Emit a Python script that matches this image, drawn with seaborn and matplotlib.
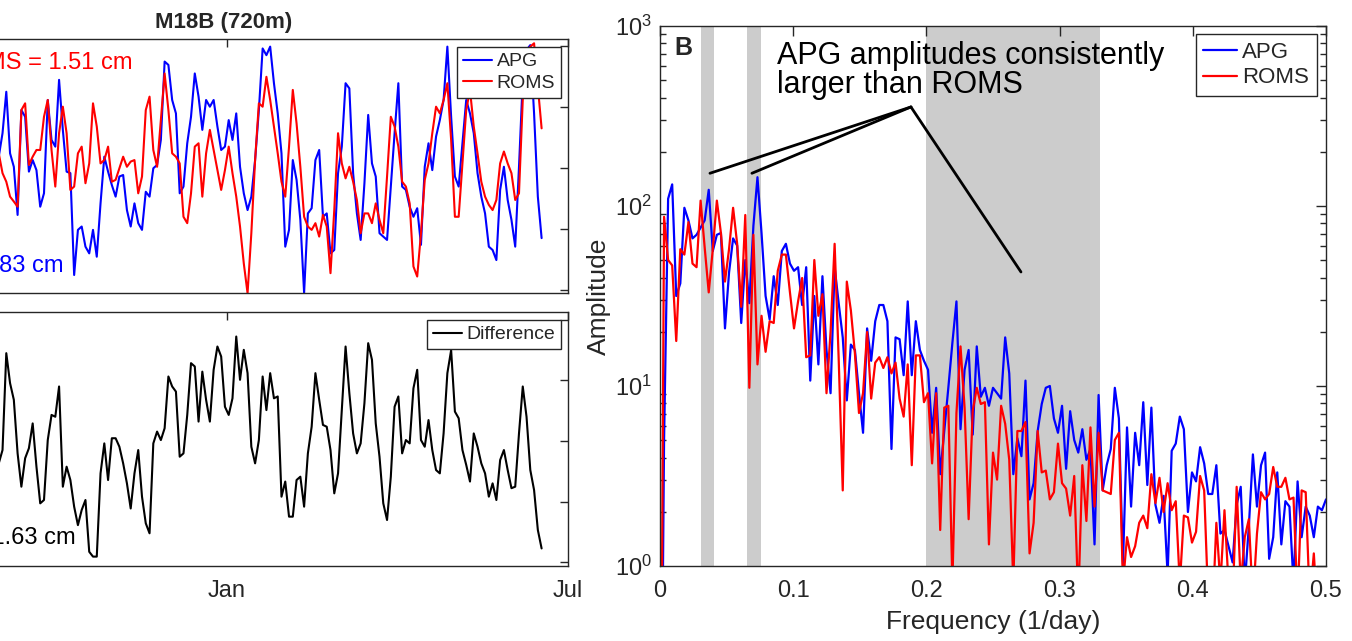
import numpy as np
import pandas as pd
import matplotlib
matplotlib.use('Agg')
import matplotlib.pyplot as plt
import matplotlib.dates as mdates
import matplotlib.ticker as mticker
import seaborn as sns

# ---------------- data ----------------
# time series at M18B, one sample every 2 days (cm)
days = pd.date_range('2017-09-02', periods=145, freq='2D')

apg_cm = [0.37, 1.14, 2.50, 0.48, 0.04, -1.54, 1.90, 1.68, -0.12, 0.26,
          -0.07, -1.27, -0.83, 2.23, 0.92, 0.70, 2.89, 1.25, -0.12, -0.17,
          -3.51, -2.03, -1.92, -2.58, -2.80, -2.03, -2.91, -1.16, 0.37, -0.12,
          -0.56, -0.94, -0.28, -0.23, -1.38, -1.92, -1.16, -1.81, -2.03, -0.78,
          -0.94, -0.01, 0.10, 0.92, 3.49, 3.38, 2.23, 1.79, -0.83, -0.61,
          0.81, 1.68, 3.10, 2.34, 1.25, 2.23, 2.01, 2.23, 1.36, 0.59,
          0.70, 1.57, 0.92, 1.79, 0.04, -0.83, -1.38, -0.94, 0.26, 1.90,
          3.92, 3.70, 3.98, 2.78, 1.79, 0.48, -2.58, -2.03, 0.26, -0.39,
          -1.70, -4.10, -1.49, -1.32, 0.26, 0.59, -1.60, -1.49, -2.80, -2.69,
          -0.17, 0.70, 2.78, 2.61, -0.17, -1.49, -2.36, -0.50, 1.74, 0.15,
          -0.28, -2.14, -2.25, -2.36, -0.61, 1.14, 2.78, -0.61, -0.72, -1.27,
          -1.60, -1.32, -2.52, 0.04, 0.81, -0.07, 1.03, 1.57, 2.23, 3.98,
          1.68, -0.28, -0.61, 0.81, 2.23, 1.79, 1.14, -0.17, -0.94, -1.49,
          -2.58, -2.69, -3.02, -0.72, 0.04, -1.05, -1.70, -2.58, 0.04, 2.89,
          3.87, 4.03, 1.79, -0.94, -2.30]

roms_cm = [0.48, -0.17, -0.45, -0.94, -1.10, -1.27, 1.90, 2.12, 0.10, 0.37,
           0.59, 0.59, 1.68, 2.23, 0.59, -0.61, 1.14, 2.01, 1.14, -0.72,
           -0.61, 0.48, 0.70, -0.50, 0.15, 2.12, 1.36, 0.15, 0.26, 0.70,
           -0.45, -0.39, -0.01, 0.37, 0.04, 0.21, 0.26, -0.83, -0.28, 1.90,
           2.34, 0.59, 0.04, 1.57, 3.10, 1.90, 0.48, 0.37, 0.15, -1.60,
           -1.81, -0.83, 0.70, 0.81, -0.94, 0.48, 1.25, 0.59, -0.07, -0.72,
           -0.07, 0.70, -0.17, -0.94, -1.92, -3.13, -4.11, -2.14, 0.26, 2.12,
           2.01, 2.99, 2.23, 1.36, 0.48, -0.45, -0.94, 0.70, 2.56, 1.46,
           0.04, -1.60, -1.92, -2.03, -1.81, -2.25, -1.54, -1.92, -3.45, -1.38,
           1.14, 0.15, -0.34, 0.04, -0.45, -1.05, -2.14, -1.49, -1.49, -1.81,
           -1.16, -1.70, -2.14, -0.28, 1.68, 1.36, 0.70, -0.45, -0.61, -1.16,
           -3.23, -3.56, -2.14, -0.39, 0.15, 1.14, 2.01, 1.79, 2.23, 2.78,
           0.92, -1.60, -1.60, 0.15, 1.90, 2.56, 1.36, 0.48, -0.45, -0.94,
           -1.21, -1.38, -1.05, 0.15, 0.54, 0.15, -0.17, -1.05, -0.83, 2.23,
           3.43, 3.98, 4.09, 2.67, 1.30]

diff_cm = [-0.74, -0.30, 2.90, 1.91, 1.36, -0.41, -1.51, -0.57, -0.24, 0.58,
           -0.85, -2.06, -1.95, 0.03, 0.86, 0.80, 1.80, -1.51, -0.85, -1.29,
           -2.17, -2.78, -2.28, -1.95, -3.66, -3.82, -3.82, -1.07, -0.08, -1.29,
           0.09, 0.09, -0.19, -0.74, -1.40, -2.23, -1.07, -0.30, -1.84, -2.72,
           -3.05, -0.08, 0.31, 0.03, 0.42, 2.13, 1.80, 1.63, -0.52, -0.41,
           0.86, 2.57, 2.46, 0.64, 2.29, 1.36, 0.64, 2.35, 3.12, 2.79,
           1.13, 0.86, 1.41, 3.45, 2.02, 3.01, 2.24, -0.19, -0.74, 0.03,
           2.13, 1.02, 2.24, 1.41, 1.47, -1.84, -1.34, -2.50, -2.50, -1.29,
           -1.18, -2.17, -0.41, 0.47, 2.24, 1.36, 0.53, 0.47, -0.30, -1.73,
           -1.07, 1.02, 3.12, 1.58, 0.25, -0.41, -0.08, 1.25, 3.23, 2.68,
           0.58, -0.52, -2.06, -2.61, -1.18, 1.13, 1.47, -0.41, 0.03, -0.08,
           1.74, 2.35, 0.03, -0.19, 0.69, -0.30, -0.96, -1.07, 0.25, 2.24,
           3.00, 0.97, 0.75, -0.30, -0.79, -1.34, 0.25, -0.19, -0.74, -1.07,
           -1.84, -1.40, -1.95, -0.63, -0.30, -0.96, -1.56, -1.51, 0.25, 1.80,
           0.80, -0.96, -1.62, -2.94, -3.55]

rms_labels = {'ROMS': 'RMS = 1.51 cm', 'APG': 'RMS = 1.83 cm', 'diff': 'RMS = 1.63 cm'}

# amplitude spectra, frequency step 1/328 per day, stored as log10(amplitude)
freq = np.arange(0, 165) / 328
apg_log_amp = [-2.0,
               0.70, 2.04, 2.12, 1.50, 1.57, 1.99, 1.92, 1.82, 1.84, 1.88,
               1.92, 2.09, 1.75, 1.84, 1.85, 1.32, 1.63, 1.82, 1.78, 1.35,
               1.70, 1.46, 1.89, 2.16, 1.85, 1.50, 1.37, 1.61, 1.45, 1.75,
               1.79, 1.68, 1.64, 1.66, 1.45, 1.66, 1.03, 1.50, 1.12, 1.61,
               1.20, 0.96, 1.66, 1.46, 1.27, 0.92, 1.23, 1.20, 0.96, 0.74,
               1.32, 1.14, 1.36, 1.45, 1.45, 1.36, 0.65, 1.27, 1.26, 1.06,
               1.47, 1.06, 1.36, 1.20, 1.14, 1.09, 0.74, 0.99, 0.51, 0.75,
               0.99, 1.24, 1.47, 0.76, 1.09, 1.20, 0.73, 1.22, 0.94, 0.99,
               0.89, 0.99, 0.96, 0.93, 1.27, 1.07, 0.51, 0.71, 0.61, 1.03,
               0.37, 0.46, 0.75, 0.90, 0.99, 1.00, 0.82, 0.74, 0.89, 0.54,
               0.86, 0.70, 0.63, 0.76, 0.59, 0.65, 0.12, 0.95, 0.42, 0.56,
               0.65, 0.99, 0.82, 0.01, 0.77, 0.33, 0.74, 0.56, 0.91, 0.45,
               0.88, 0.34, 0.24, 0.39, -0.05, 0.64, 0.68, 0.83, 0.76, 0.30,
               0.52, 0.47, 0.66, 0.57, 0.40, 0.40, 0.56, 0.18, 0.20, 0.11,
               0.02, 0.34, 0.44, -0.10, 0.22, 0.62, 0.33, 0.56, 0.63, 0.04,
               0.16, 0.52, 0.12, 0.36, 0.33, -0.10, 0.47, 0.16, 0.33, 0.28,
               0.16, 0.33, 0.31, 0.37]
roms_log_amp = [-2.0,
                1.94, 1.70, 1.67, 1.25, 1.76, 1.73, 1.91, 1.68, 1.66, 2.03,
                1.77, 1.52, 1.76, 2.03, 1.85, 1.58, 1.76, 1.99, 1.79, 1.44,
                1.95, 0.99, 1.84, 1.12, 1.39, 1.19, 1.36, 1.35, 1.64, 1.73,
                1.73, 1.52, 1.32, 1.47, 1.60, 1.16, 1.17, 1.70, 1.39, 1.51,
                0.96, 1.30, 1.79, 1.15, 0.42, 1.58, 1.42, 1.18, 0.85, 0.96,
                1.30, 0.93, 1.13, 1.16, 1.10, 1.16, 1.07, 1.13, 0.93, 0.83,
                1.12, 0.56, 1.17, 1.17, 0.91, 0.96, 0.57, 0.96, 0.20, 0.88,
                0.89, -0.10, 0.85, 1.22, 0.88, 0.26, 0.86, 0.99, 0.90, 0.91,
                0.12, 0.63, 0.48, 0.89, 0.79, 0.59, -0.10, 0.75, 0.75, 0.80,
                0.07, 0.24, 0.75, 0.52, 0.53, 0.37, 0.41, 0.68, 0.46, 0.43,
                0.28, 0.50, -0.20, 0.56, 0.25, 0.77, 0.33, 0.74, 0.42, 0.41,
                0.40, 0.70, 0.74, -0.10, 0.16, 0.05, 0.11, 0.24, 0.28, 0.21,
                0.51, 0.35, 0.49, 0.30, 0.46, 0.31, 0.36, -0.10, 0.28, 0.27,
                0.13, 0.19, 0.50, 0.42, -0.20, -0.30, 0.24, -0.10, 0.31, -0.10,
                -0.20, 0.44, -0.10, 0.16, 0.26, -0.20, 0.18, 0.41, 0.37, 0.40,
                0.55, 0.44, 0.44, 0.49, 0.37, 0.38, -0.20, 0.42, 0.41, -0.20,
                0.07, -0.30, -0.30, -0.30]

# shaded frequency bands (1/day) and callout
bands = [(0.031, 0.0405), (0.0655, 0.0755), (0.2, 0.33)]
callout_origin = (0.1884, 355)
callout_targets = [(0.0375, 152), (0.069, 152), (0.271, 43)]
callout_text = ['APG amplitudes consistently', 'larger than ROMS']

ts = pd.DataFrame({'date': days, 'APG': apg_cm, 'ROMS': roms_cm, 'Difference': diff_cm})
spec = pd.DataFrame({'freq': freq,
                     'APG': 10 ** np.array(apg_log_amp),
                     'ROMS': 10 ** np.array(roms_log_amp)})

# ---------------- figure ----------------
sns.set_theme(style='white')
plt.rcParams['font.family'] = ['Liberation Sans', 'DejaVu Sans']
plt.rcParams['axes.edgecolor'] = '0.15'
plt.rcParams['axes.linewidth'] = 1.0

W, H = 1352, 641
fig = plt.figure(figsize=(W / 100, H / 100), dpi=100)
ax_ts = fig.add_axes([-120 / W, 1 - 293 / H, 688 / W, 254 / H])
ax_df = fig.add_axes([-120 / W, 1 - 566 / H, 688 / W, 254 / H])
ax_sp = fig.add_axes([660 / W, 1 - 566 / H, 666 / W, 540 / H])

# left: APG vs ROMS, and their difference
sns.lineplot(data=ts, x='date', y='APG', color='blue', lw=1.5, ax=ax_ts, label='APG')
sns.lineplot(data=ts, x='date', y='ROMS', color='red', lw=1.5, ax=ax_ts, label='ROMS')
sns.lineplot(data=ts, x='date', y='Difference', color='black', lw=1.5, ax=ax_df, label='Difference')

xlim = (pd.Timestamp('2017-07-01'), pd.Timestamp('2018-07-01'))
xticks = [pd.Timestamp('2017-07-01'), pd.Timestamp('2018-01-01'), pd.Timestamp('2018-07-01')]
for ax, ylim in [(ax_ts, (-4.10, 4.23)), (ax_df, (-4.13, 4.26))]:
    ax.set_xlim(xlim)
    ax.set_ylim(ylim)
    ax.set_xticks(xticks)
    ax.xaxis.set_major_formatter(mdates.DateFormatter('%b'))
    ax.set_yticks([-4, -2, 0, 2, 4])
    ax.set_xlabel('')
    ax.set_ylabel('')
    ax.tick_params(direction='in', length=6, width=1, top=True, right=True,
                   labelsize=17, pad=10, colors='0.15', labelcolor='0.15')
    ax.legend(loc='upper right', bbox_to_anchor=(0.990, 0.969), borderaxespad=0,
              fontsize=14, frameon=True, fancybox=False, framealpha=1,
              edgecolor='0.15', handlelength=1.5, handletextpad=0.25,
              borderpad=0.3, labelspacing=0.2)
    ax.get_legend().get_frame().set_linewidth(1.0)
ax_ts.tick_params(labelbottom=False)
ax_ts.set_title('M18B (720m)', fontsize=16, fontweight='bold', pad=8)

ax_ts.text(0.367, 0.906, rms_labels['ROMS'], color='red', fontsize=17,
           ha='right', va='center', transform=ax_ts.transAxes)
ax_ts.text(0.266, 0.106, rms_labels['APG'], color='blue', fontsize=17,
           ha='right', va='center', transform=ax_ts.transAxes)
ax_df.text(0.285, 0.109, rms_labels['diff'], color='black', fontsize=17,
           ha='right', va='center', transform=ax_df.transAxes)

# right: amplitude spectra
for lo, hi in bands:
    ax_sp.axvspan(lo, hi, color='0.8', lw=0, zorder=0)
sns.lineplot(data=spec, x='freq', y='APG', color='blue', lw=1.6, ax=ax_sp, label='APG')
sns.lineplot(data=spec, x='freq', y='ROMS', color='red', lw=1.6, ax=ax_sp, label='ROMS')
ax_sp.set_yscale('log')
ax_sp.set_xlim(0, 0.5)
ax_sp.set_ylim(1, 1000)
ax_sp.set_xticks([0, 0.1, 0.2, 0.3, 0.4, 0.5])
ax_sp.xaxis.set_major_formatter(mticker.FormatStrFormatter('%g'))
ax_sp.tick_params(which='major', direction='in', length=7, width=1, top=True, right=True,
                  labelsize=17, colors='0.15', labelcolor='0.15')
ax_sp.tick_params(axis='x', pad=10)
ax_sp.tick_params(axis='y', pad=6)
ax_sp.tick_params(which='minor', direction='in', length=4, width=1, top=False, right=True,
                  left=True, colors='0.15')
ax_sp.set_xlabel('Frequency (1/day)', fontsize=19, color='0.15')
ax_sp.set_ylabel('Amplitude', fontsize=19, color='0.15')
ax_sp.xaxis.set_label_coords(0.5, -0.082)
ax_sp.yaxis.set_label_coords(-0.074, 0.5)

for tx, ty in callout_targets:
    ax_sp.annotate('', xy=(tx, ty), xytext=callout_origin,
                   arrowprops=dict(arrowstyle='-', color='black', lw=2,
                                   shrinkA=0, shrinkB=0))
ax_sp.text(0.0878, 615, callout_text[0], fontsize=22, ha='left', va='baseline', color='black')
ax_sp.text(0.0878, 425, callout_text[1], fontsize=22, ha='left', va='baseline', color='black')
ax_sp.text(0.022, 0.946, 'B', fontsize=18, fontweight='bold', ha='left', va='baseline',
           transform=ax_sp.transAxes)

ax_sp.legend(loc='upper right', bbox_to_anchor=(0.9865, 0.985), borderaxespad=0,
             fontsize=16, frameon=True, fancybox=False, framealpha=1,
             edgecolor='0.15', handlelength=1.5, handletextpad=0.25,
             borderpad=0.35, labelspacing=0.2)
ax_sp.get_legend().get_frame().set_linewidth(1.0)

fig.savefig('out.png', dpi=100)
